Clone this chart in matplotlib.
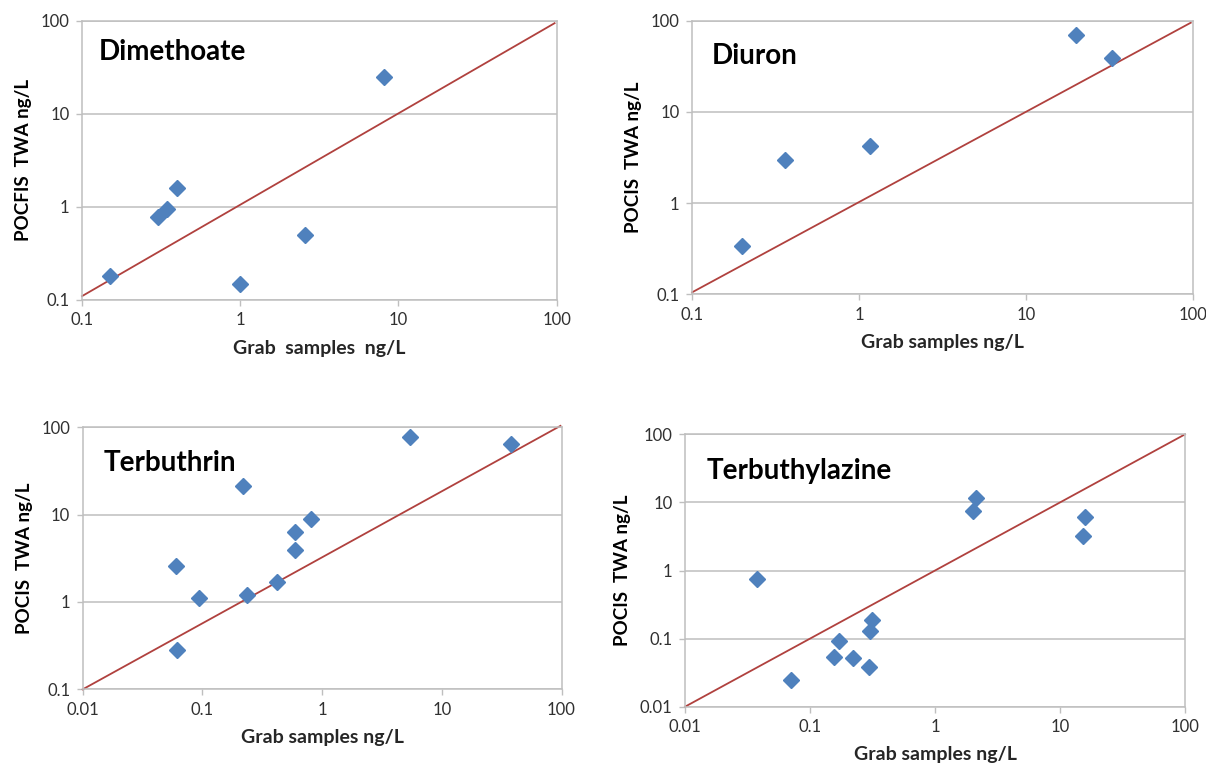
import matplotlib.pyplot as plt
from matplotlib.ticker import FixedLocator, FixedFormatter

plt.rcParams['font.family'] = ['Lato', 'DejaVu Sans']

# Dimethoate
dim_x = [0.15, 0.30, 0.345, 0.40, 1.0, 2.57, 8.1]
dim_y = [0.18, 0.77, 0.94, 1.6, 0.15, 0.50, 25]
dim_line_x = [0.1, 97]
dim_line_y = [0.11, 94]

# Diuron
diu_x = [0.20, 0.36, 1.16, 19.8, 32.9]
diu_y = [0.34, 3.0, 4.2, 70, 39]
diu_line_x = [0.1, 97]
diu_line_y = [0.105, 95]

# Terbuthrin
tbn_x = [0.060, 0.093, 0.061, 0.217, 0.237, 0.417, 0.594, 0.594, 0.80, 5.4, 37.7]
tbn_y = [2.6, 1.12, 0.28, 21.4, 1.21, 1.68, 3.9, 6.4, 8.9, 78, 65]
tbn_line_x = [0.01, 98]
tbn_line_y = [0.1, 104]

# Terbuthylazine
tbz_x = [0.038, 0.071, 0.156, 0.170, 0.220, 0.298, 0.304, 0.313, 2.11, 2.03, 15.7, 15.2]
tbz_y = [0.74, 0.025, 0.053, 0.092, 0.052, 0.038, 0.128, 0.188, 11.8, 7.5, 6.1, 3.2]
tbz_line_x = [0.01, 100]
tbz_line_y = [0.01, 100]

BLUE = '#4F81BD'
RED = '#B0413E'
GRID = '#BFBFBF'
TXT = '#303030'


def decade_labels(lo, hi):
    vals, labs = [], []
    e = lo
    while e <= hi:
        v = 10.0 ** e
        vals.append(v)
        labs.append(('%g' % v))
        e += 1
    return vals, labs


def panel(rect, x, y, lx, ly, xr, yr, title, tpos, xlabel, ylabel):
    ax = fig.add_axes(rect)
    ax.set_xscale('log')
    ax.set_yscale('log')
    ax.set_xlim(10.0 ** xr[0], 10.0 ** xr[1])
    ax.set_ylim(10.0 ** yr[0], 10.0 ** yr[1])
    xv, xl = decade_labels(*xr)
    yv, yl = decade_labels(*yr)
    ax.xaxis.set_major_locator(FixedLocator(xv))
    ax.xaxis.set_major_formatter(FixedFormatter(xl))
    ax.yaxis.set_major_locator(FixedLocator(yv))
    ax.yaxis.set_major_formatter(FixedFormatter(yl))
    ax.xaxis.set_minor_locator(FixedLocator([]))
    ax.yaxis.set_minor_locator(FixedLocator([]))
    ax.grid(True, axis='y', color=GRID, lw=1.1)
    ax.set_axisbelow(True)
    for s in ax.spines.values():
        s.set_color(GRID)
        s.set_linewidth(1.1)
    ax.tick_params(direction='out', length=4, width=1, color=GRID,
                   labelsize=12, labelcolor=TXT, pad=5)
    ax.plot(lx, ly, color=RED, lw=1.3, clip_on=False, zorder=2)
    ax.plot(x, y, 'D', color=BLUE, ms=8, mec=BLUE, zorder=3, clip_on=False)
    ax.text(tpos[0], tpos[1], title, transform=ax.transAxes, fontsize=20,
            fontweight='bold', va='center', ha='left', color='black')
    ax.set_xlabel(xlabel, fontsize=14, fontweight='bold', color='#262626', labelpad=8)
    ax.set_ylabel(ylabel, fontsize=13.5, fontweight='bold', color='black', labelpad=6)
    return ax


fig = plt.figure(figsize=(12.06, 7.69), dpi=100)

panel([0.0680, 0.6099, 0.3936, 0.3632], dim_x, dim_y, dim_line_x, dim_line_y,
      (-1, 2), (-1, 2), 'Dimethoate', (0.036, 0.888),
      'Grab  samples  ng/L', 'POCFIS  TWA ng/L')
panel([0.5738, 0.6173, 0.4154, 0.3558], diu_x, diu_y, diu_line_x, diu_line_y,
      (-1, 2), (-1, 2), 'Diuron', (0.04, 0.871),
      'Grab samples ng/L', 'POCIS  TWA ng/L')
panel([0.0686, 0.1036, 0.3970, 0.3407], tbn_x, tbn_y, tbn_line_x, tbn_line_y,
      (-2, 2), (-1, 2), 'Terbuthrin', (0.043, 0.863),
      'Grab samples ng/L', 'POCIS  TWA ng/L')
panel([0.5680, 0.0810, 0.4146, 0.3542], tbz_x, tbz_y, tbz_line_x, tbz_line_y,
      (-2, 2), (-2, 2), 'Terbuthylazine', (0.043, 0.865),
      'Grab samples ng/L', 'POCIS  TWA ng/L')

fig.savefig('out.png', dpi=100)
